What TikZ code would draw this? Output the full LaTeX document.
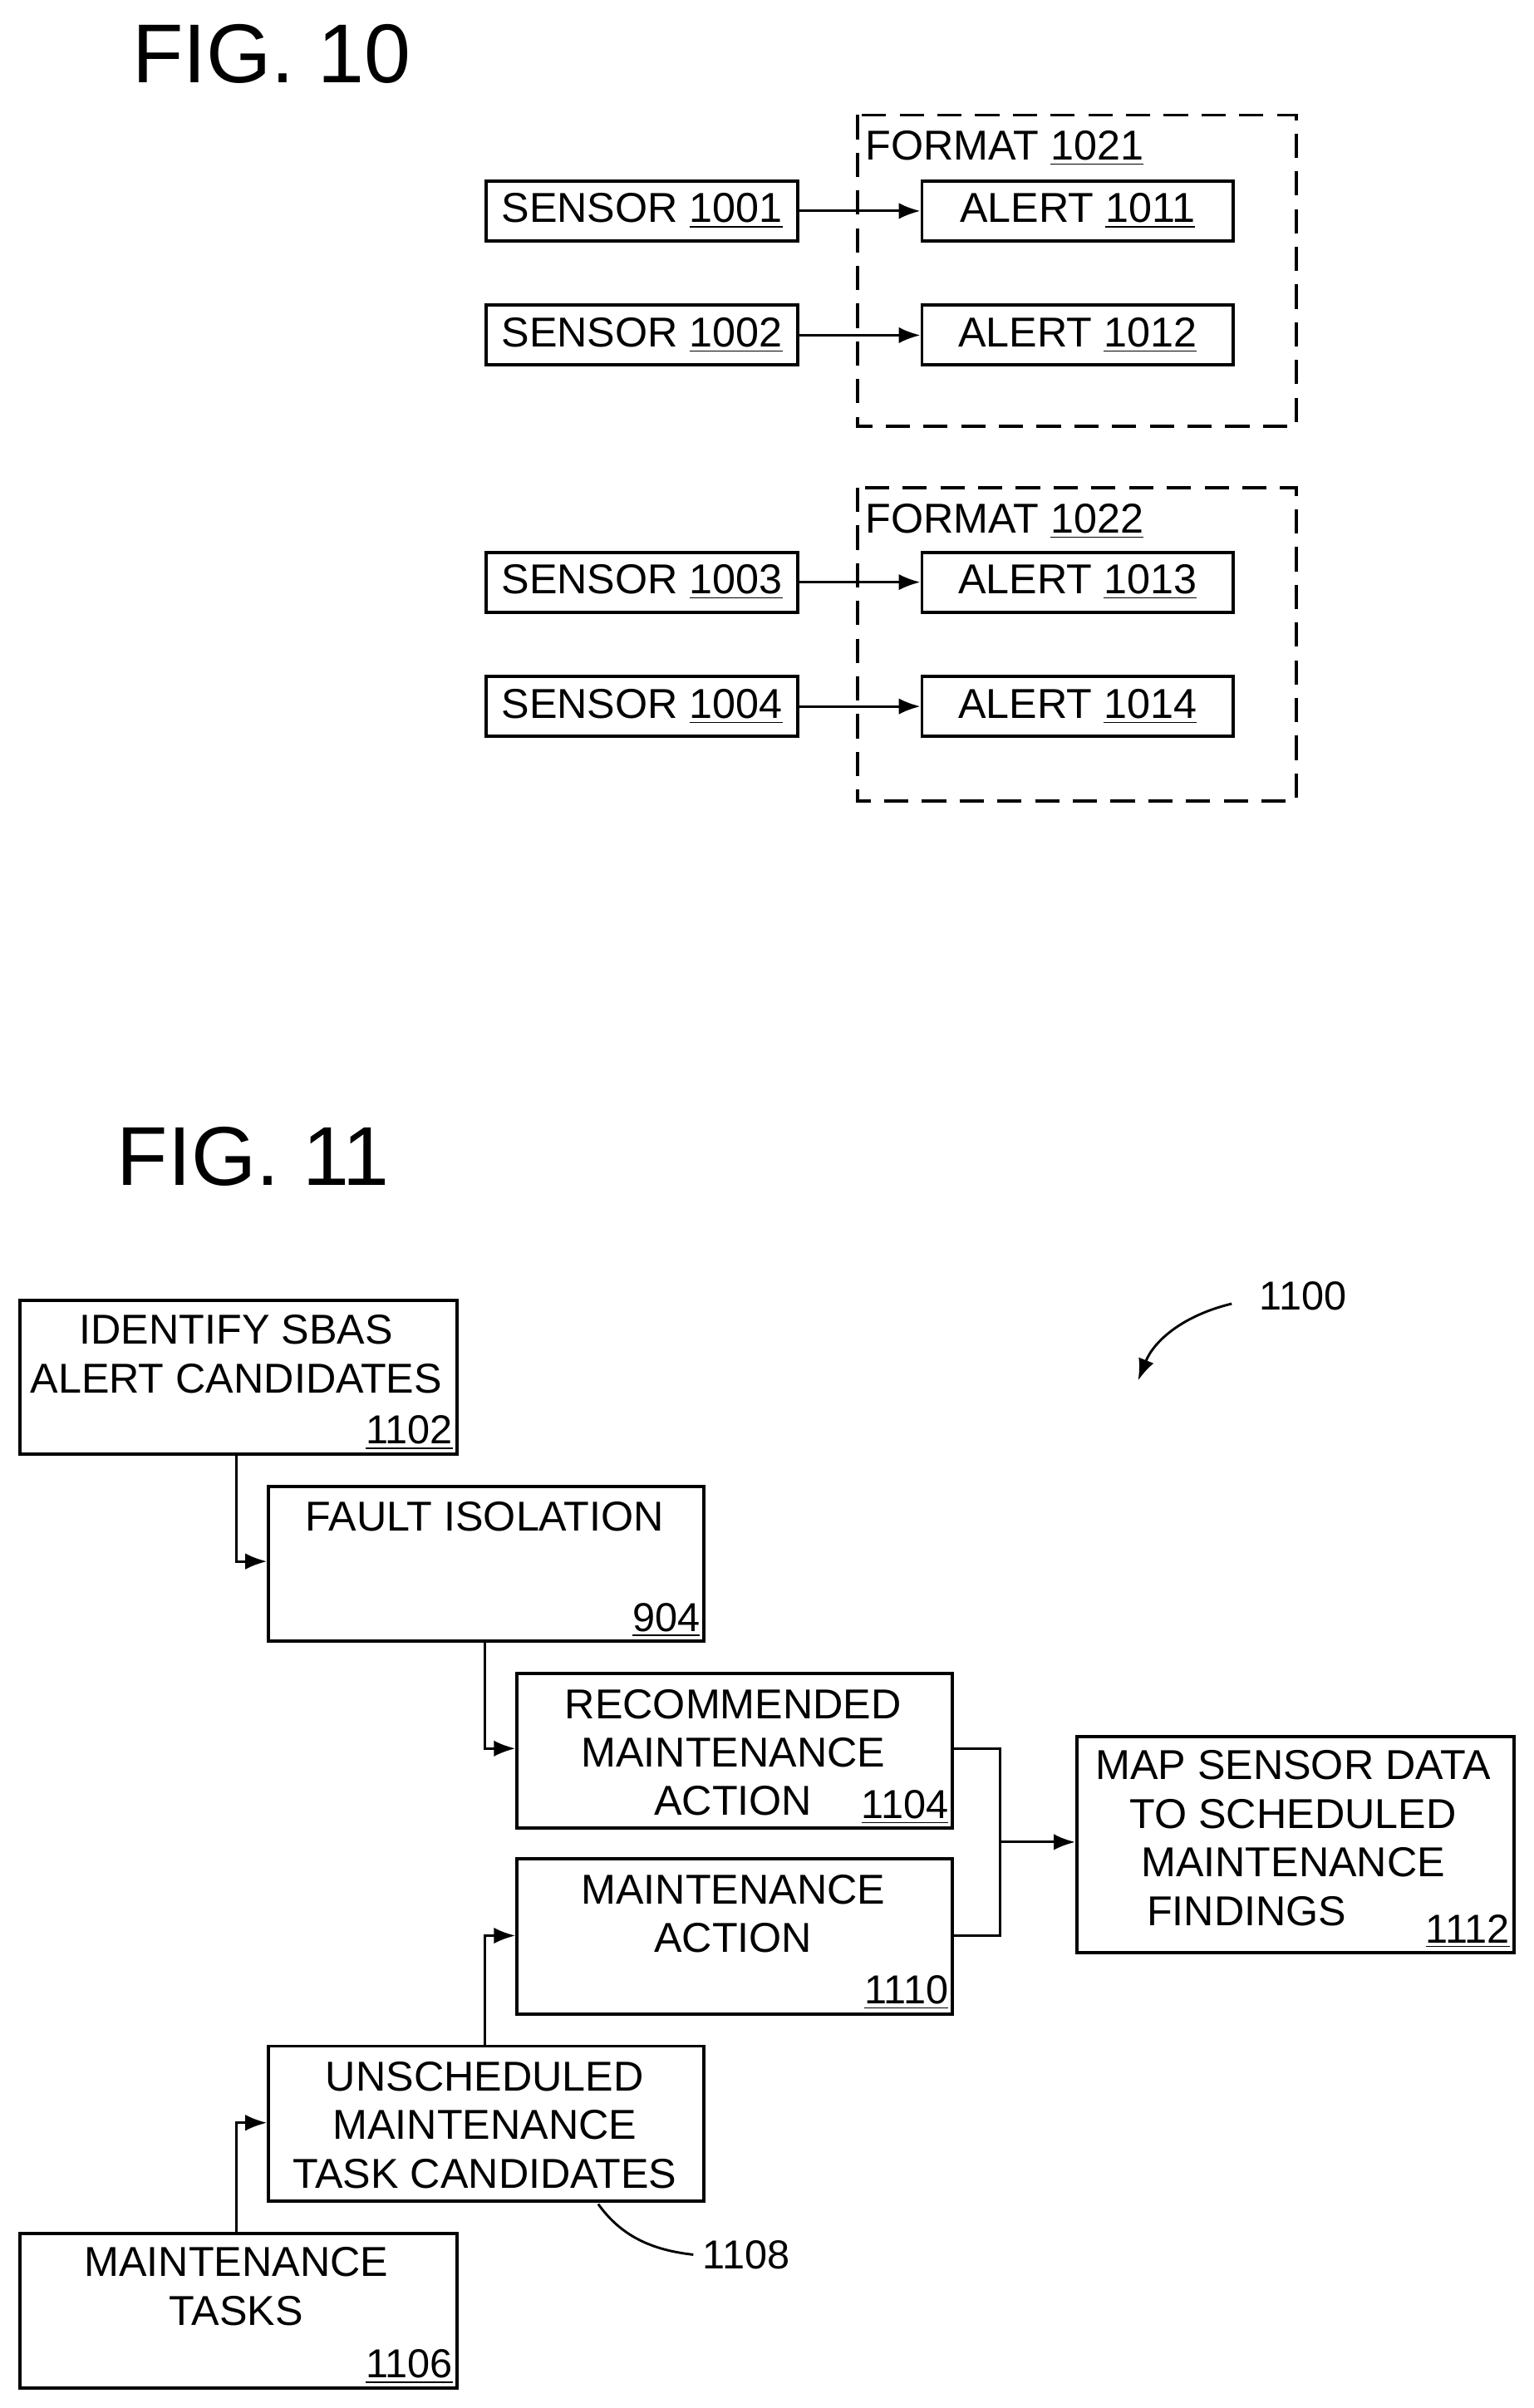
\documentclass[tikz,border=0pt]{standalone}
\usepackage{fontspec}
\setmainfont{Liberation Sans}
\usetikzlibrary{arrows.meta,positioning}
\tikzstyle{blk}=[draw, line width=1.2pt, inner sep=0pt, anchor=north west]
\tikzstyle{txt}=[align=center, inner sep=0pt, font=\fontsize{15.5}{18}\selectfont, anchor=north]
\tikzstyle{num}=[inner sep=2pt, anchor=south east, font=\fontsize{15}{18}\selectfont]
\tikzstyle{fmt}=[draw, dashed, line width=1.2pt, dash pattern=on 9pt off 5pt]
\tikzstyle{arr}=[line width=0.9pt, -{Latex[length=8pt,width=6pt]}]
\newcommand{\blk}[5]{\node[blk, minimum width=#3*0.02cm, minimum height=#4*0.02cm] (#5) at (#1,#2) {};}
\begin{document}
\begin{tikzpicture}[x=0.02cm,y=-0.02cm]
\useasboundingbox (0,0) rectangle (1000,1570);
% FIG. 10
\node[font=\fontsize{31}{36}\selectfont, anchor=west] (f10) at (80,35) {FIG. 10};
\draw[fmt] (559,75) rectangle (845,278);
\draw[fmt] (559,318) rectangle (845,522);
\node[txt, anchor=north west] (fa) at (564,85) {FORMAT \underline{1021}};
\node[txt, anchor=north west] (fb) at (564,328) {FORMAT \underline{1022}};
\foreach \i/\y in {1/117,2/198,3/359,4/440}{
  \node[blk, minimum width=203*0.02cm, minimum height=39*0.02cm,
        font=\fontsize{15.5}{18}\selectfont] (s\i) at (316,\y) {SENSOR \underline{100\i}};
  \node[blk, minimum width=203*0.02cm, minimum height=39*0.02cm,
        font=\fontsize{15.5}{18}\selectfont] (a\i) at (600,\y) {ALERT \underline{101\i}};
  \draw[arr] (s\i) -- (a\i);
}
% FIG. 11
\node[font=\fontsize{31}{36}\selectfont, anchor=west] (f11) at (70,754) {FIG. 11};
\blk{12}{847}{285}{100}{b1102}
\node[txt] at (154,857) {IDENTIFY SBAS\\ALERT CANDIDATES};
\node[num] at (b1102.south east) {\underline{1102}};
\blk{174}{968}{284}{101}{b904}
\node[txt] at (316,979) {FAULT ISOLATION};
\node[num] at (b904.south east) {\underline{904}};
\blk{336}{1090}{284}{101}{b1104}
\node[txt] at (478,1101) {RECOMMENDED\\MAINTENANCE\\ACTION};
\node[num] at (b1104.south east) {\underline{1104}};
\blk{336}{1211}{284}{101}{b1110}
\node[txt] at (478,1222) {MAINTENANCE\\ACTION};
\node[num] at (b1110.south east) {\underline{1110}};
\blk{701}{1131}{285}{141}{b1112}
\node[txt] at (843,1141) {MAP SENSOR DATA\\TO SCHEDULED\\MAINTENANCE\\FINDINGS\phantom{0000}};
\node[num] at (b1112.south east) {\underline{1112}};
\blk{174}{1333}{284}{101}{b1108}
\node[txt] at (316,1344) {UNSCHEDULED\\MAINTENANCE\\TASK CANDIDATES};
\blk{12}{1455}{285}{101}{b1106}
\node[txt] at (154,1465) {MAINTENANCE\\TASKS};
\node[num] at (b1106.south east) {\underline{1106}};
\coordinate (j) at (652,1201);
\draw[arr] (b1102.south -| 154,0) |- (b904.west |- 0,1018);
\draw[arr] (b904.south -| 316,0) |- (b1104.west |- 0,1140);
\draw[line width=0.9pt] (b1104.east |- 0,1140) -| (j);
\draw[line width=0.9pt] (b1110.east |- 0,1262) -| (j);
\draw[arr] (j) -- (b1112.west |- j);
\draw[arr] (b1108.north -| 316,0) |- (b1110.west |- 0,1262);
\draw[arr] (b1106.north -| 154,0) |- (b1108.west |- 0,1384);
\node[anchor=west, font=\fontsize{15}{18}\selectfont] (l1100) at (815,845) {1100};
\draw[arr] (803,850) .. controls (770,858) and (752,875) .. (742,900);
\node[anchor=west, font=\fontsize{15}{18}\selectfont] (l1108) at (452,1470) {1108};
\draw[line width=0.9pt] (390,1437) .. controls (405,1458) and (425,1467) .. (l1108.west);
\end{tikzpicture}
\end{document}
